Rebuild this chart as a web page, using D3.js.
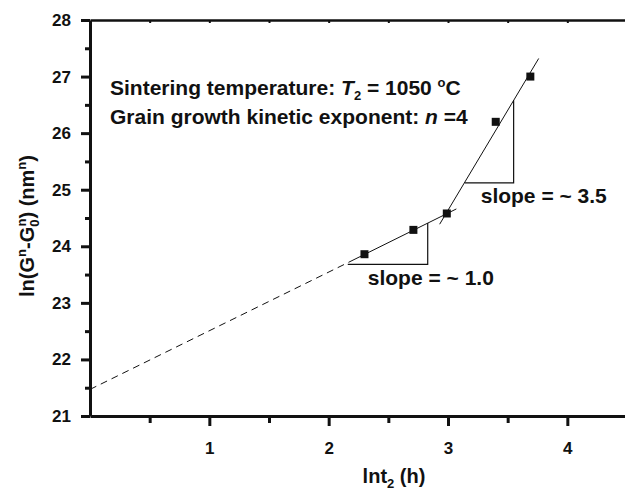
<!DOCTYPE html>
<html>
<head>
<meta charset="utf-8">
<script src="https://d3js.org/d3.v7.min.js"></script>
<style>
  body { margin: 0; background: #fff; }
  svg { display: block; font-family: "Liberation Sans", Arial, sans-serif; }
  .lbl { font-weight: bold; fill: #111; }
</style>
</head>
<body>
<svg id="chart" width="625" height="490"></svg>
<script>
// data
var lnt = [2.30, 2.71, 2.99, 3.40, 3.69];
var lnG = [23.86, 24.29, 24.58, 26.20, 27.00];

// fitted lines and slope triangles, [lnt, ln(G^n-G0^n)]
var fitDashed = [[0, 21.47], [2.17, 23.72]];
var fitLow = [[2.17, 23.72], [3.07, 24.66]];
var fitHigh = [[2.93, 24.39], [3.76, 27.32]];
var triLow = [[2.16, 23.68], [2.83, 23.68], [2.83, 24.41]];
var triHigh = [[3.14, 25.12], [3.55, 25.12], [3.55, 26.58]];

var xTicks = [1, 2, 3, 4];
var xMinor = [0.5, 1.5, 2.5, 3.5];
var yTicks = [21, 22, 23, 24, 25, 26, 27, 28];
var yMinor = [21.5, 22.5, 23.5, 24.5, 25.5, 26.5, 27.5];

var svg = d3.select("#chart");

var x = d3.scaleLinear().domain([0, 4.5]).range([90, 627]);
var y = d3.scaleLinear().domain([21, 28]).range([416, 20]);

var line = d3.line()
    .x(function(d) { return x(d[0]); })
    .y(function(d) { return y(d[1]); });

// axes
function styleAxis(g) {
  g.select(".domain").attr("stroke", "#111").attr("stroke-width", 3);
  g.selectAll(".tick line").attr("stroke", "#111").attr("stroke-width", 3);
  g.selectAll(".tick text").attr("class", "lbl").attr("font-size", 17);
}

var xAxis = svg.append("g")
    .attr("transform", "translate(0," + y(21) + ")")
    .call(d3.axisBottom(x).tickValues(xTicks).tickFormat(d3.format("d"))
      .tickSizeInner(10).tickSizeOuter(0).tickPadding(16));
styleAxis(xAxis);

svg.append("g")
    .attr("transform", "translate(0," + y(21) + ")")
    .call(d3.axisBottom(x).tickValues(xMinor).tickFormat("").tickSizeInner(7).tickSizeOuter(0))
    .call(function(g) { g.select(".domain").remove(); g.selectAll(".tick line").attr("stroke", "#111").attr("stroke-width", 3); });

var yAxis = svg.append("g")
    .attr("transform", "translate(" + x(0) + ",0)")
    .call(d3.axisLeft(y).tickValues(yTicks).tickFormat(d3.format("d"))
      .tickSizeInner(9).tickSizeOuter(0).tickPadding(10));
styleAxis(yAxis);

svg.append("g")
    .attr("transform", "translate(" + x(0) + ",0)")
    .call(d3.axisLeft(y).tickValues(yMinor).tickFormat("").tickSizeInner(5).tickSizeOuter(0))
    .call(function(g) { g.select(".domain").remove(); g.selectAll(".tick line").attr("stroke", "#111").attr("stroke-width", 3); });

// top frame line with small inward ticks
svg.append("g")
    .attr("transform", "translate(0," + y(28) + ")")
    .call(d3.axisTop(x).tickValues(xTicks.concat(xMinor)).tickFormat("").tickSizeInner(-3).tickSizeOuter(0))
    .call(function(g) {
      g.select(".domain").attr("stroke", "#111").attr("stroke-width", 2.5);
      g.selectAll(".tick line").attr("stroke", "#111").attr("stroke-width", 2);
    });

// fit lines
svg.append("path").attr("d", line(fitDashed))
    .attr("fill", "none").attr("stroke", "#111").attr("stroke-width", 1)
    .attr("stroke-dasharray", "7,5");
svg.append("path").attr("d", line(fitLow))
    .attr("fill", "none").attr("stroke", "#111").attr("stroke-width", 1);
svg.append("path").attr("d", line(fitHigh))
    .attr("fill", "none").attr("stroke", "#111").attr("stroke-width", 1);

// slope triangles
[triLow, triHigh].forEach(function(t) {
  svg.append("path").attr("d", line(t))
      .attr("fill", "none").attr("stroke", "#111").attr("stroke-width", 1.2);
});

// data points
svg.selectAll("rect.pt")
    .data(lnt)
    .enter().append("rect")
    .attr("class", "pt")
    .attr("x", function(d) { return x(d) - 4; })
    .attr("y", function(d, i) { return y(lnG[i]) - 4; })
    .attr("width", 8)
    .attr("height", 8)
    .attr("fill", "#111");

// annotations
var t1 = svg.append("text").attr("class", "lbl").attr("font-size", 21)
    .attr("x", 110).attr("y", 95);
t1.append("tspan").text("Sintering temperature: ");
t1.append("tspan").attr("font-style", "italic").text("T");
t1.append("tspan").attr("font-size", 13).attr("dy", 5).text("2");
t1.append("tspan").attr("dy", -5).text(" = 1050 ");
t1.append("tspan").attr("font-size", 13).attr("dy", -8).text("o");
t1.append("tspan").attr("dy", 8).text("C");

var t2 = svg.append("text").attr("class", "lbl").attr("font-size", 21)
    .attr("x", 110).attr("y", 124);
t2.append("tspan").text("Grain growth kinetic exponent: ");
t2.append("tspan").attr("font-style", "italic").text("n");
t2.append("tspan").text(" =4");

svg.append("text").attr("class", "lbl").attr("font-size", 21)
    .attr("x", x(triHigh[0][0]) + 16).attr("y", 203).text("slope = ~ 3.5");
svg.append("text").attr("class", "lbl").attr("font-size", 21)
    .attr("x", x(triLow[0][0]) + 20).attr("y", 285).text("slope = ~ 1.0");

// axis titles
var xt = svg.append("text").attr("class", "lbl").attr("font-size", 20)
    .attr("x", 394).attr("y", 483).attr("text-anchor", "middle");
xt.append("tspan").text("lnt");
xt.append("tspan").attr("font-size", 13).attr("dy", 5).text("2");
xt.append("tspan").attr("dy", -5).text(" (h)");

var yt = svg.append("text").attr("class", "lbl").attr("font-size", 20)
    .attr("transform", "translate(34,226) rotate(-90)")
    .attr("text-anchor", "middle");
yt.append("tspan").text("ln(G");
yt.append("tspan").attr("font-size", 13).attr("dy", -8).text("n");
yt.append("tspan").attr("dy", 8).text("-G");
yt.append("tspan").attr("font-size", 13).attr("dy", 5).text("0");
yt.append("tspan").attr("font-size", 13).attr("dx", -7).attr("dy", -13).text("n");
yt.append("tspan").attr("dy", 8).text(") (nm");
yt.append("tspan").attr("font-size", 13).attr("dy", -8).text("n");
yt.append("tspan").attr("dy", 8).text(")");
</script>
</body>
</html>
